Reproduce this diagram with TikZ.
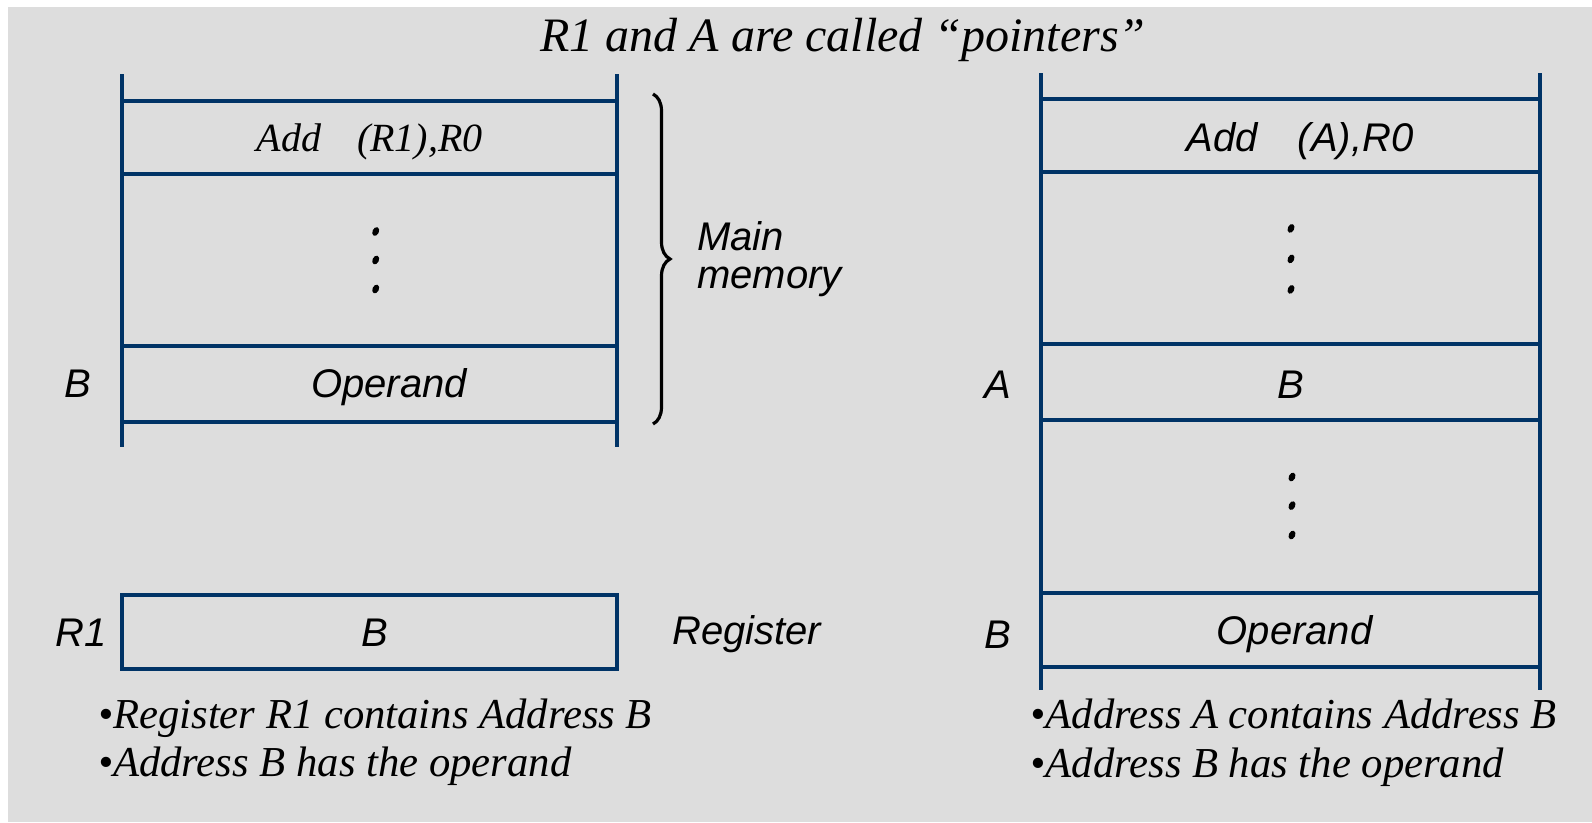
\documentclass[tikz,border=0pt]{standalone}
\usepackage{fontspec}
\setmainfont{Liberation Serif}
\setsansfont{Liberation Sans}
\usetikzlibrary{decorations.pathreplacing}
\definecolor{memblue}{RGB}{0,51,102}
\definecolor{slidegray}{RGB}{221,221,221}

\begin{document}
\begin{tikzpicture}[x=0.75pt,y=-0.75pt,
	memline/.style={memblue,line width=3pt},
	sanstext/.style={font=\fontsize{30}{36}\selectfont\sffamily\itshape,inner sep=0pt,anchor=base},
	seriftext/.style={font=\fontsize{30}{36}\selectfont\rmfamily\itshape,inner sep=0pt,anchor=base},
	bullettext/.style={font=\fontsize{32}{38}\selectfont\rmfamily\itshape,inner sep=0pt,anchor=base west}]
	\useasboundingbox (0,0) rectangle (1592,822);
	\fill[slidegray] (8,7) rectangle (1592,822);
	
	\node[font=\fontsize{36}{43}\selectfont\itshape,inner sep=0pt,anchor=base] (title) at (843,51) {R1 and A are called “pointers”};
	
	% left: main memory
	\draw[memline] (122,74) -- (122,447);
	\draw[memline] (617,74) -- (617,447);
	\foreach \y in {100.5,173.6,346,422}{
		\draw[memline] (122,\y) -- (617,\y);
	}
	\node[seriftext] (addL) at (369.6,151) {Add\hspace{0.9em}(R1),R0};
	\foreach \y in {231.5,260,289}{
		\fill[black,rotate around={-25:(375.7,\y)}] (375.7,\y) ellipse (3.2 and 4.6);
	}
	\node[sanstext] (operandL) at (389,397) {Operand};
	\node[sanstext] (addrBL) at (78,397) {B};
	
	\draw[line width=2.4pt,decorate,decoration={brace,amplitude=12.75pt}] (653,94) -- (653,424);
	\node[sanstext,anchor=base west] (main) at (697,250) {Main};
	\node[sanstext,anchor=base west] (memory) at (697,288) {memory};
	
	% left: register
	\draw[memline] (122,595) rectangle (617,669);
	\node[sanstext] (regR1) at (81,646) {R1};
	\node[sanstext] (regB) at (375,646) {B};
	\node[sanstext,anchor=base west] (register) at (672,644) {Register};
	
	\node[bullettext] (noteL1) at (98,728) {•Register R1 contains Address B};
	\node[bullettext] (noteL2) at (98,776) {•Address B has the operand};
	
	% right: main memory only
	\draw[memline] (1041,73) -- (1041,690);
	\draw[memline] (1540,73) -- (1540,690);
	\foreach \y in {98.5,171.6,344,420,593,667}{
		\draw[memline] (1041,\y) -- (1540,\y);
	}
	\node[sanstext] (addR) at (1300,151) {Add\hspace{1em}(A),R0};
	\foreach \y in {228.4,258.9,289.4}{
		\fill[black,rotate around={-25:(1291,\y)}] (1291,\y) ellipse (3.2 and 4.6);
	}
	\foreach \y in {477,505.6,535}{
		\fill[black,rotate around={-25:(1292,\y)}] (1292,\y) ellipse (3.2 and 4.6);
	}
	\node[sanstext] (addrA) at (998,398) {A};
	\node[sanstext] (cellB) at (1291,398) {B};
	\node[sanstext] (addrBR) at (998,648) {B};
	\node[sanstext] (operandR) at (1294.5,644) {Operand};
	
	\node[bullettext] (noteR1) at (1030.5,728) {•Address A contains Address B};
	\node[bullettext] (noteR2) at (1030.5,777) {•Address B has the operand};
\end{tikzpicture}
\end{document}
